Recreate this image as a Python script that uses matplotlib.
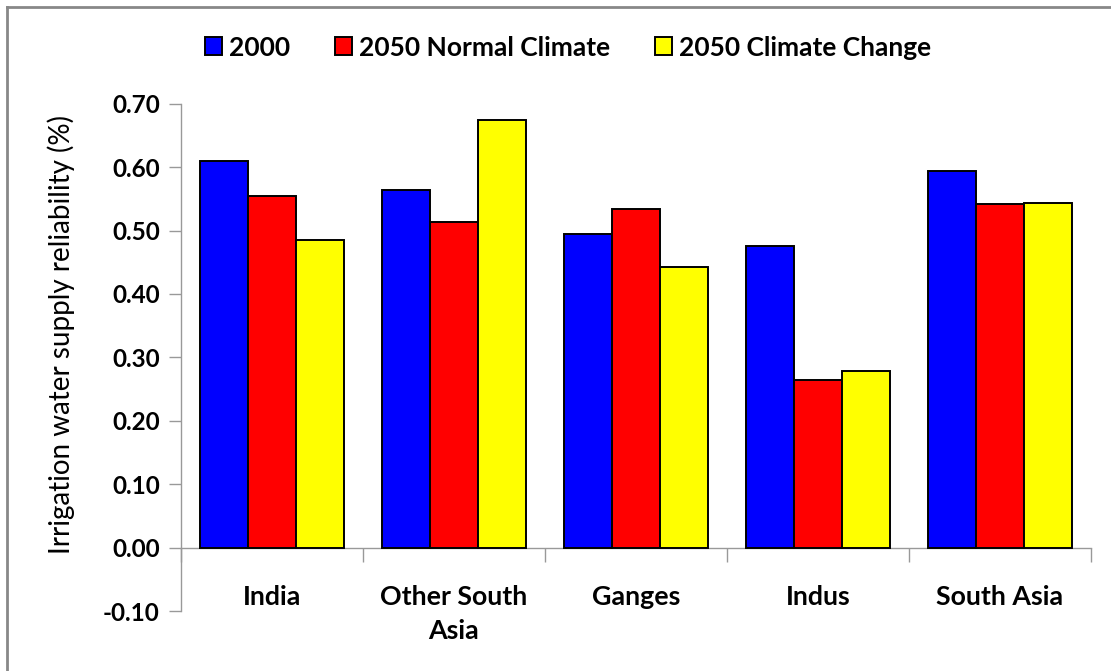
import numpy as np
import matplotlib.pyplot as plt
from matplotlib.lines import Line2D

# irrigation water supply reliability by region
regions = ["India", "Other South\nAsia", "Ganges", "Indus", "South Asia"]
rel_2000 = [0.610, 0.564, 0.495, 0.475, 0.594]
rel_2050_normal = [0.554, 0.513, 0.534, 0.265, 0.542]
rel_2050_cc = [0.485, 0.675, 0.442, 0.279, 0.543]
series_labels = ["2000", "2050 Normal Climate", "2050 Climate Change"]
series_colors = ["#0000FF", "#FF0000", "#FFFF00"]

plt.rcParams["font.family"] = ["Lato", "DejaVu Sans"]

fig = plt.figure(figsize=(11.11, 6.71), dpi=100)
ax = fig.add_axes([0.1626, 0.0894, 0.8194, 0.7561])

x = np.arange(len(regions))
w = 0.263
for k, vals in enumerate([rel_2000, rel_2050_normal, rel_2050_cc]):
    ax.bar(x + (k - 1) * w, vals, width=w, color=series_colors[k],
           edgecolor="black", linewidth=1.4, label=series_labels[k], zorder=3)

# spine position first: moving it resets the tick objects
for s in ["top", "right"]:
    ax.spines[s].set_visible(False)
ax.spines["bottom"].set_position(("data", 0))
for s in ["left", "bottom"]:
    ax.spines[s].set_color("#999999")
    ax.spines[s].set_linewidth(1)

ax.set_xlim(-0.5, len(regions) - 0.5)
ax.set_ylim(-0.10, 0.70)
yt = np.arange(-0.1, 0.71, 0.1)
ax.set_yticks(yt)
ax.set_yticklabels([f"{v:.2f}" for v in yt], fontsize=17.5, fontweight="bold")

# category names sit low, tick marks between the groups
ax.set_xticks(np.arange(len(regions) + 1) - 0.5, minor=True)
ax.set_xticks(x)
ax.tick_params(axis="x", which="major", length=0, pad=27)
ax.tick_params(axis="x", which="minor", length=10, width=1, color="#999999",
               direction="out")
ax.tick_params(axis="y", length=9, width=1, color="#999999", direction="out", pad=6)
ax.set_xticklabels(regions, fontsize=19.3, fontweight="bold", linespacing=1.5)

ax.set_ylabel("Irrigation water supply reliability (%)", fontsize=20)
ax.yaxis.set_label_coords(-0.116, 0.546)

handles, labels = ax.get_legend_handles_labels()
fig.legend(handles, labels, loc="center", bbox_to_anchor=(0.511, 0.929), ncol=3,
           frameon=False, prop={"size": 19, "weight": "bold"},
           handlelength=0.64, handleheight=0.68, handletextpad=0.27,
           columnspacing=1.7)

# outer frame (only top and left edges show)
fig.add_artist(Line2D([0.0063, 0.0063], [0, 0.990], transform=fig.transFigure,
                      color="#888888", linewidth=2))
fig.add_artist(Line2D([0.0063, 1.0], [0.990, 0.990], transform=fig.transFigure,
                      color="#888888", linewidth=2))

fig.savefig("out.png", dpi=100)
